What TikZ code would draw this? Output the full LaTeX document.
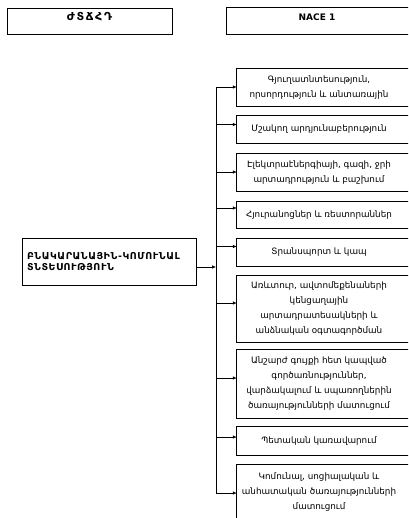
\documentclass[tikz,border=0pt]{standalone}
\usepackage{fontspec}
\setmainfont{DejaVu Sans}
\usetikzlibrary{arrows.meta}
\begin{document}
\begin{tikzpicture}[x=1pt,y=-1pt,
  boxline/.style={draw=black,line width=0.8pt},
  rbox/.style={minimum width=164pt,inner sep=0pt,align=center,
    font=\fontsize{8.8}{15}\selectfont},
  hdr/.style={inner sep=0pt,text height=7pt,text depth=8pt},
  mbox/.style={draw,line width=0.8pt,minimum height=47pt,inner xsep=5pt,
    text width=164pt,align=left,
    font=\fontsize{9.5}{11}\selectfont\bfseries\addfontfeatures{LetterSpace=6}},
  arr/.style={line width=0.6pt,-{Latex[length=4pt,width=3.5pt]}}]
\useasboundingbox (0,0) rectangle (408,518);
\clip (0,0) rectangle (408,518);
% headers
\node[hdr,draw,line width=0.8pt,minimum width=165pt,minimum height=26pt,
  font=\fontsize{11}{13}\selectfont\bfseries\addfontfeatures{LetterSpace=15}] (h1) at (89.5,21) {ԺՏՃՀԴ};
\node[hdr,minimum width=180pt,minimum height=26pt,
  font=\fontsize{9}{11}\selectfont\bfseries] (h2) at (317,21) {NACE 1};
\draw[boxline] ([xshift=15pt]h2.north east) -| (h2.south west) -- ([xshift=15pt]h2.south east);
% main box
\node[mbox] (m) at (109,261.5) {ԲՆԱԿԱՐԱՆԱՅԻՆ-ԿՈՄՈՒՆԱԼ\\ՏՆՏԵՍՈՒԹՅՈՒՆ};
% right boxes
\node[rbox,minimum height=37pt] (b1) at (319,87.5) {Գյուղատնտեսություն,\\որսորդություն և անտառային};
\node[rbox,minimum height=27pt] (b2) at (319,129.5) {Մշակող արդյունաբերություն};
\node[rbox,minimum height=37pt] (b3) at (319,172.5) {Էլեկտրաէներգիայի, գազի, ջրի\\արտադրություն և բաշխում};
\node[rbox,minimum height=26pt] (b4) at (319,215) {Հյուրանոցներ և ռեստորաններ};
\node[rbox,minimum height=27pt] (b5) at (319,252.5) {Տրանսպորտ և կապ};
\node[rbox,minimum height=66pt] (b6) at (319,309) {Առևտուր, ավտոմեքենաների\\կենցաղային\\արտադրատեսակների և\\անձնական օգտագործման};
\node[rbox,minimum height=68pt] (b7) at (319,384) {Անշարժ գույքի հետ կապված\\գործառնություններ,\\վարձակալում և սպառողներին\\ծառայությունների մատուցում};
\node[rbox,minimum height=28pt] (b8) at (319,441) {Պետական կառավարում};
\node[rbox,minimum height=55pt] (b9) at (319,492.5) {Կոմունալ, սոցիալական և\\անհատական ծառայությունների\\մատուցում};
\foreach \b in {b1,b2,b3,b4,b5,b6,b7,b8,b9}
  \draw[boxline] ([xshift=15pt]\b.north east) -| (\b.south west) -- ([xshift=15pt]\b.south east);
% bus
\coordinate (vt) at (216,87);
\coordinate (vb) at (216,493);
\draw[line width=0.6pt] (vt) -- (vb);
\draw[arr] ([yshift=-5.5pt]m.east) -- ([yshift=-5.5pt]m.east -| vt);
\foreach \b/\d in {b1/0.5,b2/5,b3/0.5,b4/7,b5/6,b6/6,b7/6,b8/4,b9/-0.5}
  \draw[arr] ([yshift=\d pt]\b.west -| vt) -- ([yshift=\d pt]\b.west);
\end{tikzpicture}
\end{document}
